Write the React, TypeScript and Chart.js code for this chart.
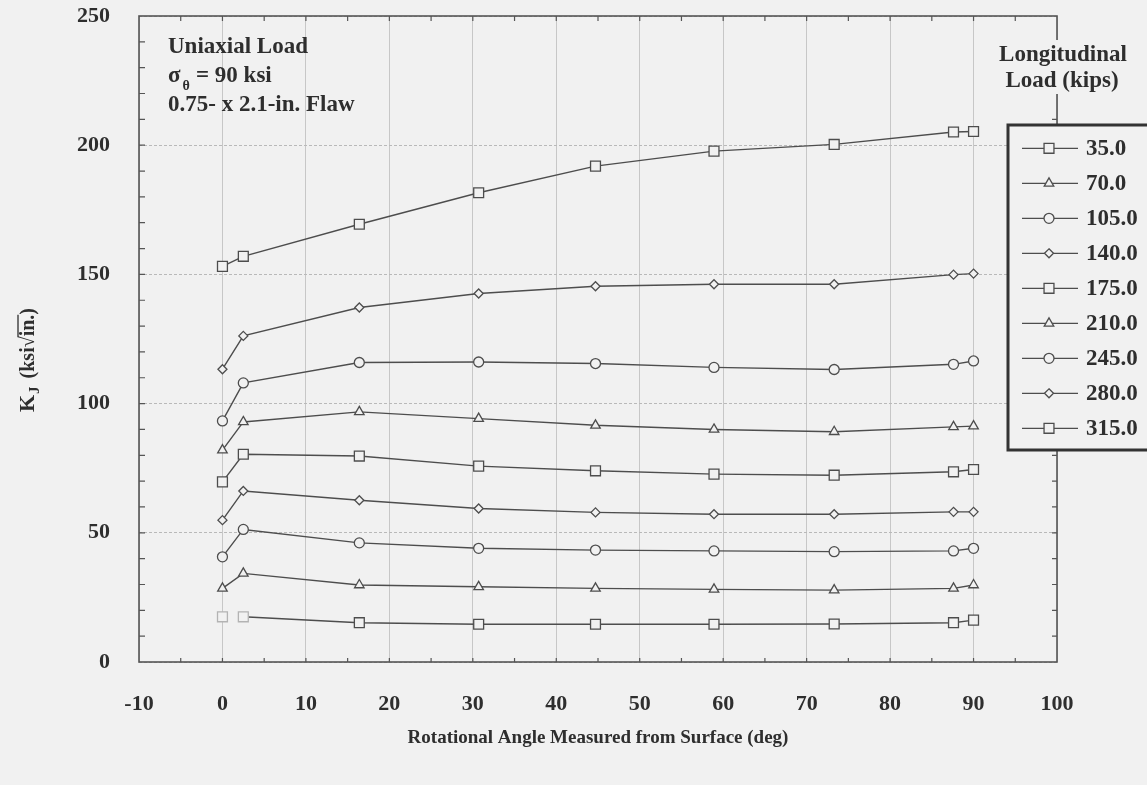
import React, { useEffect, useRef } from 'react';
import { Chart, registerables } from 'chart.js';

Chart.register(...registerables);

// ---------------- data ----------------
const angles = [0, 2.5, 16.4, 30.7, 44.7, 58.9, 73.3, 87.6, 90];

const load35 = [17.5, 17.5, 15.2, 14.6, 14.6, 14.6, 14.7, 15.2, 16.2];
const load70 = [28.5, 34.3, 29.8, 29.1, 28.5, 28.1, 27.8, 28.5, 29.8];
const load105 = [40.7, 51.3, 46.1, 44.0, 43.3, 43.0, 42.7, 43.0, 44.0];
const load140 = [54.9, 66.2, 62.6, 59.4, 57.9, 57.2, 57.2, 58.1, 58.1];
const load175 = [69.7, 80.4, 79.7, 75.8, 74.0, 72.7, 72.3, 73.6, 74.5];
const load210 = [82.0, 92.9, 96.8, 94.2, 91.6, 90.0, 89.1, 91.0, 91.3];
const load245 = [93.3, 108.0, 115.9, 116.1, 115.5, 114.0, 113.2, 115.2, 116.5];
const load280 = [113.3, 126.2, 137.2, 142.6, 145.4, 146.2, 146.2, 149.9, 150.3];
const load315 = [153.1, 157.0, 169.4, 181.6, 191.9, 197.7, 200.3, 205.1, 205.3];

const seriesLabels = ['35.0', '70.0', '105.0', '140.0', '175.0', '210.0', '245.0', '280.0', '315.0'];
const seriesValues = [load35, load70, load105, load140, load175, load210, load245, load280, load315];

const xMin = -10;
const xMax = 100;
const xStep = 10;
const yMin = 0;
const yMax = 250;
const yStep = 50;

const annotationLines = ['Uniaxial Load', '= 90 ksi', '0.75- x 2.1-in. Flaw'];
const legendTitle = ['Longitudinal', 'Load (kips)'];
const xTitle = 'Rotational Angle Measured from Surface (deg)';

// ---------------- styles ----------------
const FONT = '"Liberation Serif", "Times New Roman", serif';
const BG = '#f1f1f1';
const INK = '#4d4d4d';
const TEXT = '#2e2e2e';
const markerStyles = ['rect', 'triangle', 'circle', 'rectRot', 'rect', 'triangle', 'circle', 'rectRot', 'rect'];
const markerRadius: Record<string, number> = { rect: 7, triangle: 5.5, circle: 5, rectRot: 4.5 };

function drawMarker(ctx: CanvasRenderingContext2D, style: string, x: number, y: number, r: number) {
  ctx.beginPath();
  if (style === 'rect') {
    const s = Math.SQRT1_2 * r;
    ctx.rect(x - s, y - s, 2 * s, 2 * s);
  } else if (style === 'triangle') {
    let a = 0;
    ctx.moveTo(x + Math.sin(a) * r, y - Math.cos(a) * r);
    a += (2 * Math.PI) / 3;
    ctx.lineTo(x + Math.sin(a) * r, y - Math.cos(a) * r);
    a += (2 * Math.PI) / 3;
    ctx.lineTo(x + Math.sin(a) * r, y - Math.cos(a) * r);
    ctx.closePath();
  } else if (style === 'circle') {
    ctx.arc(x, y, r, 0, Math.PI * 2);
  } else {
    ctx.moveTo(x, y - r);
    ctx.lineTo(x + r, y);
    ctx.lineTo(x, y + r);
    ctx.lineTo(x - r, y);
    ctx.closePath();
  }
  ctx.fillStyle = BG;
  ctx.fill();
  ctx.strokeStyle = INK;
  ctx.lineWidth = 1.3;
  ctx.stroke();
}

const bgPlugin = {
  id: 'bgFill',
  beforeDraw(chart: any) {
    const { ctx, width, height } = chart;
    ctx.save();
    ctx.fillStyle = BG;
    ctx.fillRect(0, 0, width, height);
    ctx.restore();
  },
};

const overlayPlugin = {
  id: 'overlay',
  afterDraw(chart: any) {
    const { ctx, chartArea } = chart;
    const { left, right, top, bottom } = chartArea;
    const xs = chart.scales.x;
    const ys = chart.scales.y;
    ctx.save();

    // frame
    ctx.strokeStyle = '#555';
    ctx.lineWidth = 1.6;
    ctx.strokeRect(left, top, right - left, bottom - top);

    // minor ticks (inward)
    ctx.lineWidth = 1.2;
    ctx.beginPath();
    for (let v = yMin + 10; v < yMax; v += 10) {
      const py = ys.getPixelForValue(v);
      ctx.moveTo(left, py);
      ctx.lineTo(left + 6, py);
      ctx.moveTo(right, py);
      ctx.lineTo(right - 5, py);
    }
    for (let v = xMin + 5; v < xMax; v += 5) {
      const px = xs.getPixelForValue(v);
      ctx.moveTo(px, bottom);
      ctx.lineTo(px, bottom - 4);
      ctx.moveTo(px, top);
      ctx.lineTo(px, top + 5);
    }
    ctx.stroke();

    // annotation (top-left)
    ctx.fillStyle = TEXT;
    ctx.textBaseline = 'alphabetic';
    ctx.textAlign = 'left';
    ctx.font = `bold 23px ${FONT}`;
    ctx.fillText(annotationLines[0], 168, 53);
    ctx.fillText('σ', 168, 82);
    const sw = ctx.measureText('σ').width;
    ctx.font = `bold 14px ${FONT}`;
    ctx.fillText('θ', 168 + sw + 2, 90);
    ctx.font = `bold 23px ${FONT}`;
    ctx.fillText(annotationLines[1], 196, 82);
    ctx.fillText(annotationLines[2], 168, 111);

    // y title, rotated
    ctx.save();
    ctx.translate(30, 360);
    ctx.rotate(-Math.PI / 2);
    const partK = 'K';
    const partJ = 'J';
    const partA = '(ksi';
    const partRoot = '√';
    const partIn = 'in.';
    const partB = ')';
    const bigF = `bold 22px ${FONT}`;
    const subF = `bold 15px ${FONT}`;
    const midF = `bold 20px ${FONT}`;
    ctx.font = bigF;
    const wK = ctx.measureText(partK).width;
    ctx.font = subF;
    const wJ = ctx.measureText(partJ).width;
    ctx.font = midF;
    const wA = ctx.measureText(partA).width;
    const wR = ctx.measureText(partRoot).width;
    const wI = ctx.measureText(partIn).width;
    const wB = ctx.measureText(partB).width;
    const gap = 9;
    const total = wK + wJ + gap + wA + wR + wI + wB;
    let cx = -total / 2;
    const base = 4;
    ctx.font = bigF;
    ctx.fillText(partK, cx, base);
    cx += wK;
    ctx.font = subF;
    ctx.fillText(partJ, cx + 1, base + 5);
    cx += wJ + gap;
    ctx.font = midF;
    ctx.fillText(partA, cx, base);
    cx += wA;
    ctx.fillText(partRoot, cx, base);
    cx += wR;
    ctx.fillText(partIn, cx, base);
    ctx.strokeStyle = TEXT;
    ctx.lineWidth = 1.3;
    ctx.beginPath();
    ctx.moveTo(cx - 1, base - 16);
    ctx.lineTo(cx + wI, base - 16);
    ctx.stroke();
    cx += wI;
    ctx.fillText(partB, cx, base);
    ctx.restore();

    // legend title with background
    ctx.fillStyle = BG;
    ctx.fillRect(995, 40, 152, 54);
    ctx.fillStyle = TEXT;
    ctx.textAlign = 'center';
    ctx.textBaseline = 'middle';
    ctx.font = `bold 23px ${FONT}`;
    ctx.fillText(legendTitle[0], 1063, 55);
    ctx.fillText(legendTitle[1], 1062, 81);

    // legend box
    const bx = 1008;
    const by = 125;
    const bw = 150;
    const bh = 325;
    ctx.fillStyle = BG;
    ctx.fillRect(bx, by, bw, bh);
    ctx.strokeStyle = '#333';
    ctx.lineWidth = 3;
    ctx.strokeRect(bx, by, bw, bh);

    chart.data.datasets.forEach((ds: any, i: number) => {
      const ry = 148.3 + i * 35;
      ctx.strokeStyle = INK;
      ctx.lineWidth = 1.2;
      ctx.beginPath();
      ctx.moveTo(1022, ry);
      ctx.lineTo(1078, ry);
      ctx.stroke();
      const st = markerStyles[i];
      drawMarker(ctx, st, 1049, ry, markerRadius[st]);
      ctx.fillStyle = TEXT;
      ctx.textAlign = 'left';
      ctx.textBaseline = 'middle';
      ctx.font = `bold 23px ${FONT}`;
      ctx.fillText(ds.label, 1086, ry + 1);
    });

    ctx.restore();
  },
};

export default function App() {
  const ref = useRef<HTMLCanvasElement>(null);

  useEffect(() => {
    document.body.style.margin = '0';
    document.body.style.background = BG;
    const canvas = ref.current;
    if (!canvas) return;

    const datasets = seriesValues.map((vals, i) => {
      const st = markerStyles[i];
      const isFirst = i === 0;
      return {
        label: seriesLabels[i],
        data: angles.map((a, j) => ({ x: a, y: vals[j] })),
        borderColor: INK,
        borderWidth: 1.4,
        pointStyle: st,
        pointRadius: markerRadius[st],
        pointBackgroundColor: BG,
        pointBorderColor: isFirst ? angles.map((_, j) => (j < 2 ? '#b3b3b3' : INK)) : INK,
        pointBorderWidth: 1.3,
        showLine: true,
        tension: 0,
        fill: false,
        segment: isFirst
          ? { borderColor: (c: any) => (c.p0DataIndex === 0 ? 'rgba(0,0,0,0)' : undefined) }
          : undefined,
      };
    });

    const chart = new Chart(canvas, {
      type: 'line',
      data: { datasets },
      options: {
        responsive: false,
        animation: false,
        devicePixelRatio: 1,
        layout: { padding: { top: 16, right: 90, left: 0, bottom: 0 } },
        plugins: {
          legend: { display: false },
          tooltip: { enabled: false },
          title: { display: false },
        },
        scales: {
          x: {
            type: 'linear',
            min: xMin,
            max: xMax,
            afterFit: (s: any) => {
              s.height = 123;
              s.paddingLeft = 0;
              s.paddingRight = 0;
            },
            ticks: {
              stepSize: xStep,
              autoSkip: false,
              maxRotation: 0,
              padding: 29,
              color: TEXT,
              font: { family: FONT, size: 22, weight: 'bold' },
            },
            grid: { color: '#c7c7c7', lineWidth: 1, drawTicks: false },
            border: { display: false },
            title: {
              display: true,
              text: xTitle,
              color: TEXT,
              font: { family: FONT, size: 19, weight: 'bold' },
              padding: { top: 0, bottom: 36 },
            },
          },
          y: {
            type: 'linear',
            min: yMin,
            max: yMax,
            afterFit: (s: any) => {
              s.width = 139;
              s.paddingTop = 0;
              s.paddingBottom = 0;
            },
            ticks: {
              stepSize: yStep,
              padding: 29,
              color: TEXT,
              font: { family: FONT, size: 22, weight: 'bold' },
            },
            grid: { color: '#b9b9b9', lineWidth: 1, drawTicks: false },
            border: { display: false, dash: [3, 2] },
          },
        },
      },
      plugins: [bgPlugin, overlayPlugin],
    } as any);

    return () => chart.destroy();
  }, []);

  return (
    <div style={{ width: 1147, height: 785 }}>
      <canvas ref={ref} width={1147} height={785} style={{ display: 'block' }} />
    </div>
  );
}
